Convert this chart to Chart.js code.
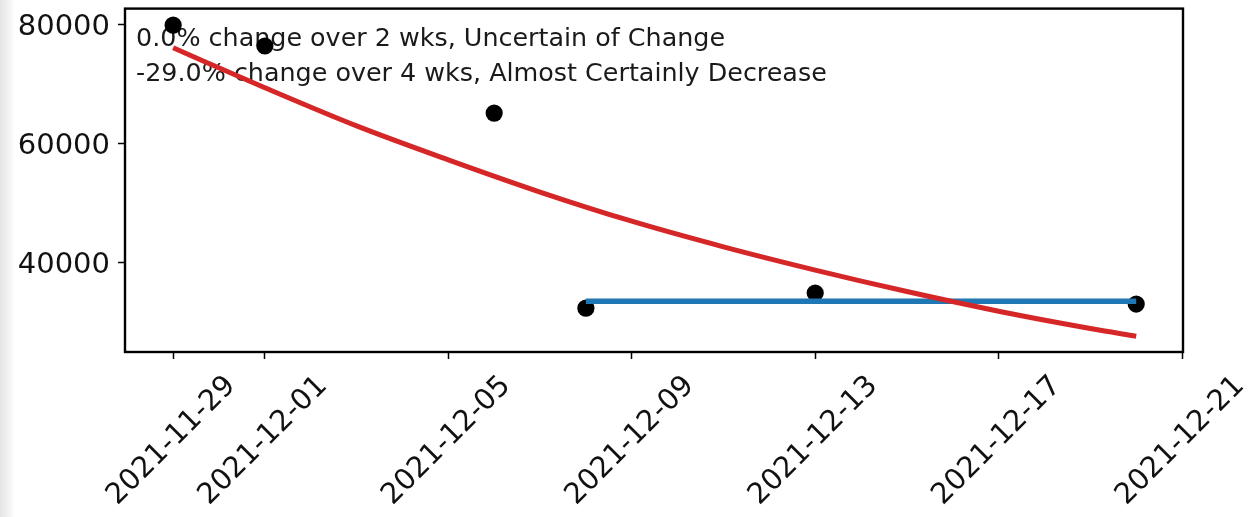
<!DOCTYPE html>
<html>
<head>
<meta charset="utf-8">
<title>Weekly trend</title>
<script src="https://cdn.jsdelivr.net/npm/chart.js@4/dist/chart.umd.min.js"></script>
<style>
  html, body { margin: 0; padding: 0; }
  body {
    width: 1253px;
    height: 517px;
    background: linear-gradient(to right, #e4e4e4 0px, #f1f1f1 8px, #ffffff 15px);
  }
  #chart { display: block; filter: blur(0.55px); }
</style>
</head>
<body>
<canvas id="chart" width="1253" height="517"></canvas>
<script>
// Observed weekly values
const obsDates = ['2021-11-29', '2021-12-01', '2021-12-06', '2021-12-08', '2021-12-13', '2021-12-20'];
const obsValues = [79900, 76400, 65150, 32400, 34950, 33100];

// Flat 2-week trend
const shortDates = ['2021-12-08', '2021-12-20'];
const shortValues = [33550, 33550];

// 4-week decay fit
const fitDates = ['2021-11-29', '2021-12-01', '2021-12-03', '2021-12-05', '2021-12-07', '2021-12-09',
  '2021-12-11', '2021-12-13', '2021-12-15', '2021-12-17', '2021-12-19', '2021-12-20'];
const fitValues = [76100, 69400, 63000, 57300, 51900, 47000, 42700, 38800, 35200, 31900, 29000, 27700];

// Axis ticks
const xTickDates = ['2021-11-29', '2021-12-01', '2021-12-05', '2021-12-09', '2021-12-13', '2021-12-17', '2021-12-21'];
const yTicks = [40000, 60000, 80000];

const notes = [
  '0.0% change over 2 wks, Uncertain of Change',
  '-29.0% change over 4 wks, Almost Certainly Decrease'
];

const toDay = s => Date.parse(s + 'T00:00:00Z') / 86400000;
const fmtDay = d => new Date(Math.round(d) * 86400000).toISOString().slice(0, 10);
const pairs = (dates, vals) => dates.map((d, i) => ({ x: toDay(d), y: vals[i] }));

const FONT = '"DejaVu Sans", sans-serif';

// text block in the upper left of the axes
const notesPlugin = {
  id: 'notes',
  beforeDatasetsDraw(chart) {
    const { ctx, chartArea } = chart;
    ctx.save();
    ctx.font = '25.4px ' + FONT;
    ctx.fillStyle = '#1a1a1a';
    ctx.textAlign = 'left';
    ctx.textBaseline = 'alphabetic';
    ctx.fillText(notes[0], chartArea.left + 11, chartArea.top + 37);
    ctx.fillText(notes[1], chartArea.left + 11, chartArea.top + 72);
    ctx.restore();
  }
};

// full box around the plot
const framePlugin = {
  id: 'frame',
  afterDatasetsDraw(chart) {
    const { ctx, chartArea } = chart;
    ctx.save();
    ctx.strokeStyle = '#000';
    ctx.lineWidth = 2.4;
    ctx.strokeRect(chartArea.left, chartArea.top, chartArea.right - chartArea.left, chartArea.bottom - chartArea.top);
    ctx.restore();
  }
};

const ctx = document.getElementById('chart').getContext('2d');
new Chart(ctx, {
  type: 'scatter',
  data: {
    datasets: [{
      data: pairs(fitDates, fitValues),
      showLine: true,
      borderColor: '#d62728',
      borderWidth: 5,
      pointRadius: 0,
      cubicInterpolationMode: 'monotone',
      order: 1
    }, {
      data: pairs(shortDates, shortValues),
      showLine: true,
      borderColor: '#1f77b4',
      borderWidth: 5.5,
      pointRadius: 0,
      order: 2
    }, {
      data: pairs(obsDates, obsValues),
      pointRadius: 8.6,
      pointBackgroundColor: '#000',
      pointBorderWidth: 0,
      order: 3
    }]
  },
  options: {
    responsive: false,
    animation: false,
    devicePixelRatio: 1,
    layout: { padding: { top: 8, right: 70, left: 0, bottom: 0 } },
    plugins: {
      legend: { display: false },
      tooltip: { enabled: false }
    },
    scales: {
      x: {
        type: 'linear',
        min: toDay('2021-11-29') - 1.05,
        max: toDay('2021-12-21') + 0.02,
        afterBuildTicks: s => { s.ticks = xTickDates.map(d => ({ value: toDay(d) })); },
        afterFit: s => { s.height = 165; s.paddingLeft = 0; s.paddingRight = 0; },
        ticks: {
          callback: v => fmtDay(v),
          autoSkip: false,
          minRotation: 45,
          maxRotation: 45,
          labelOffset: 58,
          padding: 10,
          color: '#111',
          font: { family: FONT, size: 29 }
        },
        grid: { drawOnChartArea: false, tickLength: 7, tickColor: '#000', tickWidth: 1.5 },
        border: { display: false }
      },
      y: {
        min: 25050,
        max: 82680,
        afterBuildTicks: s => { s.ticks = yTicks.map(v => ({ value: v })); },
        afterFit: s => { s.width = 125; s.paddingTop = 0; s.paddingBottom = 0; },
        ticks: {
          callback: v => String(v),
          padding: 8,
          labelOffset: 3,
          color: '#111',
          font: { family: FONT, size: 29 }
        },
        grid: { drawOnChartArea: false, tickLength: 7, tickColor: '#000', tickWidth: 1.5 },
        border: { display: false }
      }
    }
  },
  plugins: [notesPlugin, framePlugin]
});
</script>
</body>
</html>
